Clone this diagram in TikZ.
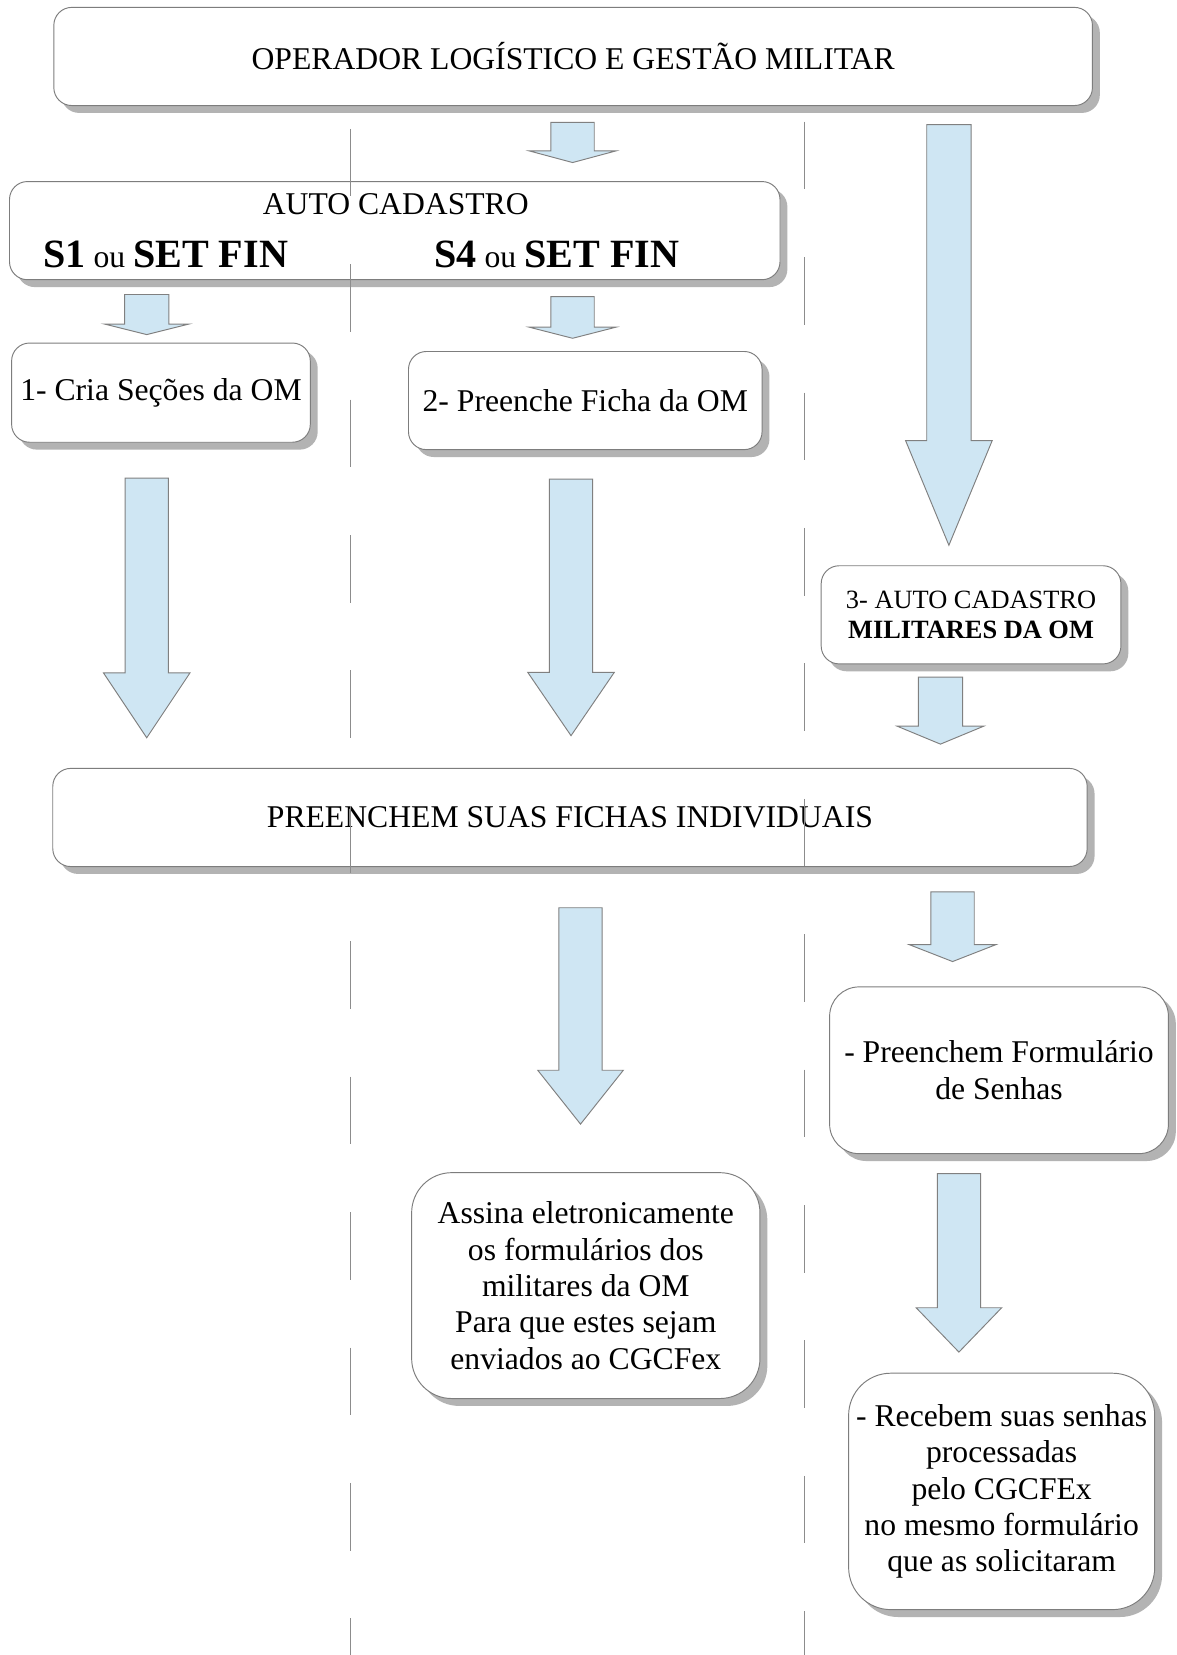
\documentclass[tikz,border=0pt]{standalone}
\usepackage{fontspec}
\setmainfont{Liberation Serif}
\usetikzlibrary{shadows}
\definecolor{arrowfill}{RGB}{207,230,243}
\definecolor{arrowline}{RGB}{128,128,128}
\definecolor{boxline}{RGB}{125,125,125}
\definecolor{shadowgray}{RGB}{179,179,179}
\definecolor{lanegray}{RGB}{140,140,140}
% cx, top, base of head, tip, half shaft width, half head width
\newcommand{\blockarrow}[6]{%
  \draw[blockarr] (#1-#5,#2) -- (#1+#5,#2) -- (#1+#5,#3) -- (#1+#6,#3) -- (#1,#4) -- (#1-#6,#3) -- (#1-#5,#3) -- cycle;}
\begin{document}
\begin{tikzpicture}[x=1pt,y=-1pt,
  box/.style={draw=boxline, line width=0.9pt, fill=white, inner sep=0pt, outer sep=0pt, align=center,
    drop shadow={shadow xshift=7pt, shadow yshift=-7pt, fill=shadowgray, opacity=1}},
  blockarr/.style={draw=arrowline, line width=0.9pt, fill=arrowfill, line join=miter},
  lane/.style={draw=lanegray, line width=1.1pt, dash pattern=on 64pt off 64.3pt},
  txt/.style={inner sep=0pt, outer sep=0pt},
  font=\fontsize{30}{34.5}\selectfont]
\fill[white] (0,0) rectangle (1115,1568);
\useasboundingbox (0,0) rectangle (1115,1568);

% boxes
\node[box, minimum width=984, minimum height=93, rounded corners=17] (top) at (543,53.5) {OPERADOR LOGÍSTICO E GESTÃO MILITAR};

\node[box, minimum width=730, minimum height=93, rounded corners=17] (auto) at (374,218.5) {};
\node[txt, anchor=base] (autot) at (375,203) {AUTO CADASTRO};
\node[txt, anchor=base] (s1) at (157,253) {{\fontsize{38}{44}\selectfont\bfseries S1} ou {\fontsize{38}{44}\selectfont\bfseries SET FIN}};
\node[txt, anchor=base] (s4) at (527.5,253) {{\fontsize{38}{44}\selectfont\bfseries S4} ou {\fontsize{38}{44}\selectfont\bfseries SET FIN}};

\node[box, minimum width=283, minimum height=94, rounded corners=17] (b1) at (152.5,372) {1- Cria Seções da OM};
\node[box, minimum width=335, minimum height=93, rounded corners=17] (b2) at (554.5,379.5) {2- Preenche Ficha da OM};
\node[box, minimum width=284, minimum height=93, rounded corners=17, font=\fontsize{25}{29}\selectfont] (b3) at (920,582.5) {3- AUTO CADASTRO\\\textbf{MILITARES DA OM}};

\node[box, minimum width=980, minimum height=93, rounded corners=17] (preen) at (540,774.5) {PREENCHEM SUAS FICHAS INDIVIDUAIS};

\node[box, minimum width=321, minimum height=158, rounded corners=28] (form) at (946.5,1014) {- Preenchem Formulário\\de Senhas};
\node[box, minimum width=330, minimum height=214, rounded corners=38] (assina) at (555,1218) {Assina eletronicamente\\os formulários dos\\militares da OM\\Para que estes sejam\\enviados ao CGCFex};
\node[box, minimum width=290, minimum height=224, rounded corners=40] (receb) at (949,1413) {- Recebem suas senhas\\processadas\\pelo CGCFEx\\no mesmo formulário\\que as solicitaram};

% block arrows
\blockarrow{542.5}{116}{143}{154}{20.5}{41}
\blockarrow{139}{279}{307}{317}{21}{40}
\blockarrow{542.5}{281}{310}{320.5}{20.5}{41}
\blockarrow{139}{453}{637.5}{699}{20.5}{41}
\blockarrow{541}{454}{637}{697}{20.5}{41}
\blockarrow{899}{118}{417.5}{516.6}{21}{41}
\blockarrow{891}{641.5}{688}{705}{21}{41}
\blockarrow{902.5}{845}{895}{911}{20.5}{41}
\blockarrow{550}{860}{1014}{1065}{20.5}{40.5}
\blockarrow{908.5}{1112}{1239}{1281}{20.5}{40.5}

% lane separators
\coordinate (laneAtop) at (332,122);
\coordinate (laneAbot) at (332,1568);
\coordinate (laneBtop) at (762,115.3);
\coordinate (laneBbot) at (762,1568);
\draw[lane] (laneAtop) -- (laneAbot);
\draw[lane] (laneBtop) -- (laneBbot);
\end{tikzpicture}
\end{document}
